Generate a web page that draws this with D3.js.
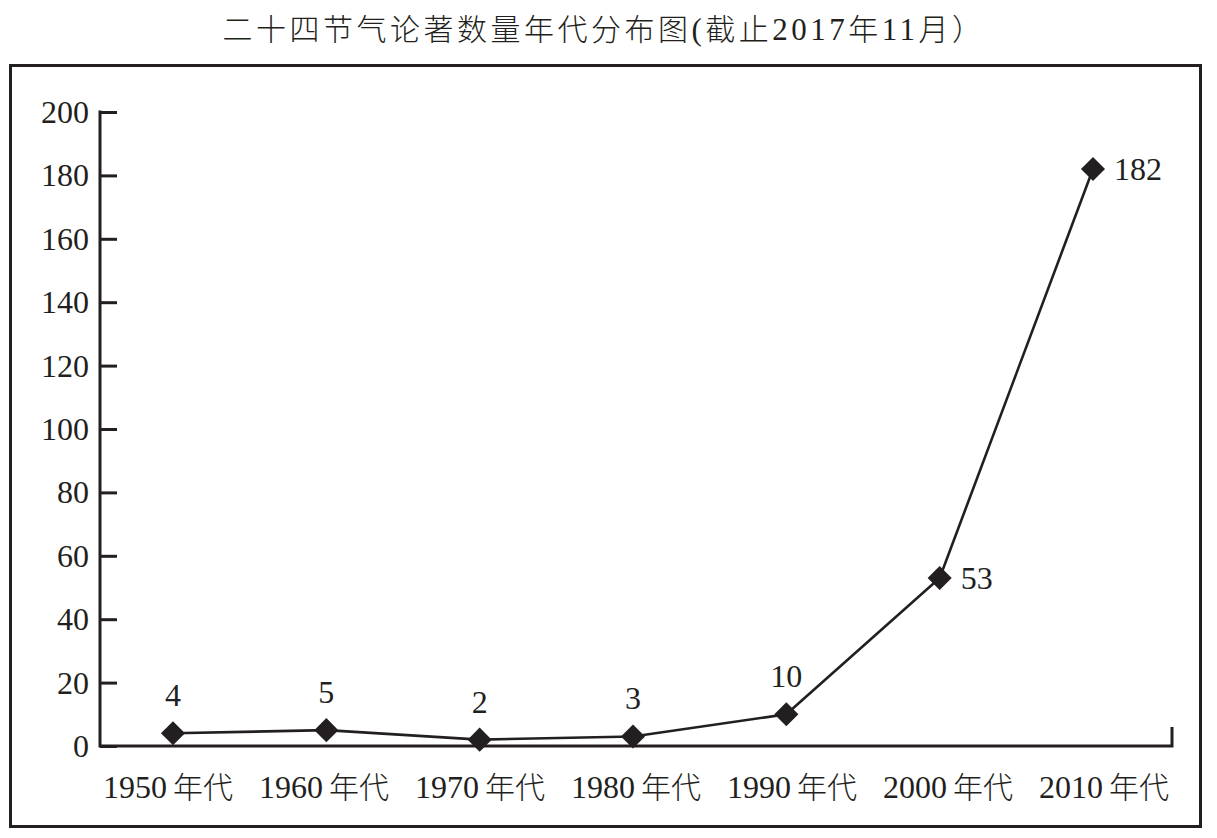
<!DOCTYPE html>
<html><head><meta charset="utf-8">
<script src="https://cdn.jsdelivr.net/npm/d3@7"></script>
<style>
html,body{margin:0;padding:0;background:#fff;}
svg{display:block;}
</style></head>
<body>
<script>
const title = "二十四节气论著数量年代分布图(截止2017年11月）";
const categories = ["1950", "1960", "1970", "1980", "1990", "2000", "2010"];
const categorySuffix = "年代";
const values = [4, 5, 2, 3, 10, 53, 182];
const yTicks = [0, 20, 40, 60, 80, 100, 120, 140, 160, 180, 200];
const labelPlacement = ["above", "above", "above", "above", "above", "right", "right"];

const W = 1217, H = 838, ink = "#231f20";
const SERIF = "'Liberation Serif', 'Times New Roman', serif";
const CJK = "'Noto Sans CJK SC', 'Noto Sans', sans-serif";
const svg = d3.select("body").append("svg").attr("width", W).attr("height", H);

// frame
svg.append("rect").attr("x", 10.5).attr("y", 65.5).attr("width", 1190).attr("height", 761)
  .attr("fill", "none").attr("stroke", ink).attr("stroke-width", 3);

// title
const t = svg.append("text").attr("x", 604).attr("y", 40).attr("text-anchor", "middle")
  .attr("fill", ink).attr("font-family", CJK).attr("font-size", 30).attr("font-weight", 300)
  .attr("letter-spacing", 3.5);
const parts = title.split(/(\d+|\()/).filter(s => s.length);
parts.forEach(p => {
  const isNum = /^\d+$/.test(p) || p === "(";
  t.append("tspan")
    .attr("font-family", isNum ? SERIF : CJK)
    .attr("font-weight", isNum ? 400 : 300)
    .attr("font-size", isNum ? 31 : 30).text(p);
});

const y = d3.scaleLinear().domain([0, 200]).range([746, 112]);
const xPts = d3.scalePoint().domain(categories).range([173, 1093]);
const xLab = d3.scalePoint().domain(categories).range([168, 1104]);

// y axis
const yAxis = d3.axisRight(y).tickValues(yTicks).tickSize(17).tickFormat("");
const ya = svg.append("g").attr("transform", "translate(100,0)").call(yAxis);
ya.select(".domain").remove();
ya.selectAll(".tick line").attr("stroke", ink).attr("stroke-width", 3);
svg.append("line").attr("x1", 100).attr("x2", 100).attr("y1", y(200) - 1.5).attr("y2", y(0) + 1.5)
  .attr("stroke", ink).attr("stroke-width", 3);
svg.append("g").selectAll("text").data(yTicks).join("text")
  .attr("font-family", SERIF).attr("x", 89).attr("y", d => y(d) + 11)
  .attr("text-anchor", "end").attr("font-size", 32).attr("fill", ink).text(d => d);

// x axis
svg.append("path").attr("d", `M100,${y(0)}H1172V${y(0) - 19}`)
  .attr("fill", "none").attr("stroke", ink).attr("stroke-width", 3);

// x labels
const xl = svg.append("g").selectAll("text").data(categories).join("text")
  .attr("x", d => xLab(d)).attr("y", 798).attr("text-anchor", "middle").attr("fill", ink);
xl.append("tspan").attr("font-family", SERIF).attr("font-size", 32).text(d => d);
xl.append("tspan").attr("font-family", CJK).attr("font-weight", 300)
  .attr("font-size", 30).attr("dx", 6).text(categorySuffix);

// line
const data = categories.map((c, i) => ({c, v: values[i], p: labelPlacement[i]}));
svg.append("path").datum(data)
  .attr("d", d3.line().x(d => xPts(d.c)).y(d => y(d.v)))
  .attr("fill", "none").attr("stroke", ink).attr("stroke-width", 2.6);

// markers
svg.append("g").selectAll("path").data(data).join("path")
  .attr("transform", d => `translate(${xPts(d.c)},${y(d.v)}) rotate(45)`)
  .attr("d", d3.symbol(d3.symbolSquare, 290)).attr("fill", ink);

// value labels
svg.append("g").selectAll("text").data(data).join("text")
  .attr("font-family", SERIF).attr("font-size", 32).attr("fill", ink)
  .attr("x", d => d.p === "right" ? xPts(d.c) + 21 : xPts(d.c))
  .attr("y", d => d.p === "right" ? y(d.v) + 11 : y(d.v) - 27)
  .attr("text-anchor", d => d.p === "right" ? "start" : "middle")
  .text(d => d.v);
</script>
</body></html>
